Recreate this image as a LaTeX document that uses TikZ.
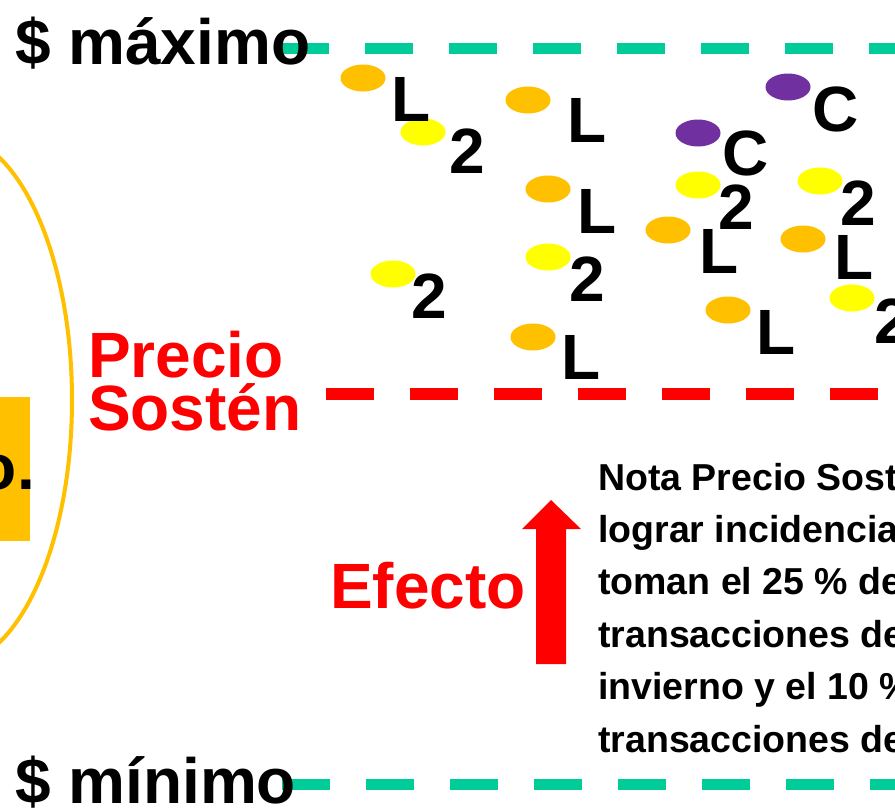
\documentclass[tikz,border=0pt]{standalone}
\usepackage{fontspec}
\setmainfont{Liberation Sans}
\usetikzlibrary{shapes.geometric}
\definecolor{tealc}{RGB}{0,204,153}
\definecolor{gold}{RGB}{255,192,0}
\definecolor{yel}{RGB}{255,255,0}
\definecolor{purp}{RGB}{112,48,160}
\definecolor{redc}{RGB}{255,0,0}
\begin{document}
\begin{tikzpicture}[x=1pt,y=-1pt,
  bigtxt/.style={font=\fontsize{64}{64}\selectfont\bfseries, inner sep=0pt, anchor=base west},
  lbl/.style={font=\fontsize{64}{64}\selectfont\bfseries, inner sep=0pt, anchor=base},
  blob/.style={ellipse, minimum width=45pt, minimum height=27pt, inner sep=0pt},
  notetxt/.style={font=\fontsize{37.5}{37.5}\selectfont\bfseries, inner sep=0pt, anchor=base west},
  gdash/.style={draw=tealc, line width=11pt, dash pattern=on 48pt off 36pt},
  rdash/.style={draw=redc, line width=12pt, dash pattern=on 48pt off 36pt}]
\useasboundingbox (0,0) rectangle (895,807);
\clip (0,0) rectangle (895,807);
\fill[white] (0,0) rectangle (895,807);

% left ellipse and box
\draw[gold, line width=4pt] (-50,400) ellipse [x radius=122, y radius=265];
\fill[gold] (-10,397) rectangle (30,541);
\node[font=\fontsize{64}{64}\selectfont\bfseries, inner sep=0pt, anchor=base east] (box) at (35,489) {o.};

% dashed lines
\coordinate (gt0) at (281,48);
\coordinate (gt1) at (905,48);
\coordinate (gb0) at (282,784.5);
\coordinate (gb1) at (905,784.5);
\coordinate (r0) at (326,394);
\coordinate (r1) at (905,394);
\draw[gdash] (gt0) -- (gt1);
\draw[gdash] (gb0) -- (gb1);
\draw[rdash] (r0) -- (r1);

% texts
\node[bigtxt] (max) at (15,64) {\$ máximo};
\node[bigtxt] (min) at (15,803) {\$ mínimo};
\node[bigtxt, text=redc] (prec) at (88,377) {Precio};
\node[bigtxt, text=redc] (sost) at (88,430) {Sostén};
\node[bigtxt, text=redc] (efe) at (330,608) {Efecto};

% arrow
\fill[redc] (536,664) -- (536,529) -- (522,529) -- (551,500) -- (581,529) -- (566,529) -- (566,664) -- cycle;

% note
\node[notetxt] (n1) at (598,490) {Nota Precio Sost};
\node[notetxt] (n2) at (598,542.4) {lograr incidencia};
\node[notetxt] (n3) at (598,594.8) {toman el 25 \% de};
\node[notetxt] (n4) at (598,647.2) {transacciones de};
\node[notetxt] (n5) at (598,699.6) {invierno y el 10 \%};
\node[notetxt] (n6) at (598,752) {transacciones de};

% dots
\node[blob, fill=gold] (o1) at (363,78) {};
\node[blob, fill=gold] (o2) at (528,100) {};
\node[blob, fill=gold] (o3) at (548,189) {};
\node[blob, fill=gold] (o4) at (668,230) {};
\node[blob, fill=gold] (o5) at (803,239) {};
\node[blob, fill=gold] (o6) at (533,337) {};
\node[blob, fill=gold] (o7) at (728,310) {};
\node[blob, fill=yel] (y1) at (423,132) {};
\node[blob, fill=yel] (y2) at (698,185) {};
\node[blob, fill=yel] (y3) at (820,181) {};
\node[blob, fill=yel] (y4) at (393,274) {};
\node[blob, fill=yel] (y5) at (548,257) {};
\node[blob, fill=yel] (y6) at (852,298) {};
\node[blob, fill=purp] (p1) at (788,87) {};
\node[blob, fill=purp] (p2) at (698,133) {};

% labels
\node[lbl] (lL1) at (411,121) {L};
\node[lbl] (l21) at (467,173) {2};
\node[lbl] (lL2) at (587,142) {L};
\node[lbl] (lL3) at (597,233) {L};
\node[lbl] (l22) at (587,301) {2};
\node[lbl] (l23) at (429,318) {2};
\node[lbl] (lL4) at (581,379) {L};
\node[lbl] (lC1) at (746,175) {C};
\node[lbl] (lC2) at (836,131) {C};
\node[lbl] (l24) at (736,229) {2};
\node[lbl] (l25) at (858.5,225) {2};
\node[lbl] (lL5) at (719,273) {L};
\node[lbl] (lL6) at (854,279) {L};
\node[lbl] (lL7) at (776,354) {L};
\node[lbl] (l26) at (892,343) {2};
\end{tikzpicture}
\end{document}
